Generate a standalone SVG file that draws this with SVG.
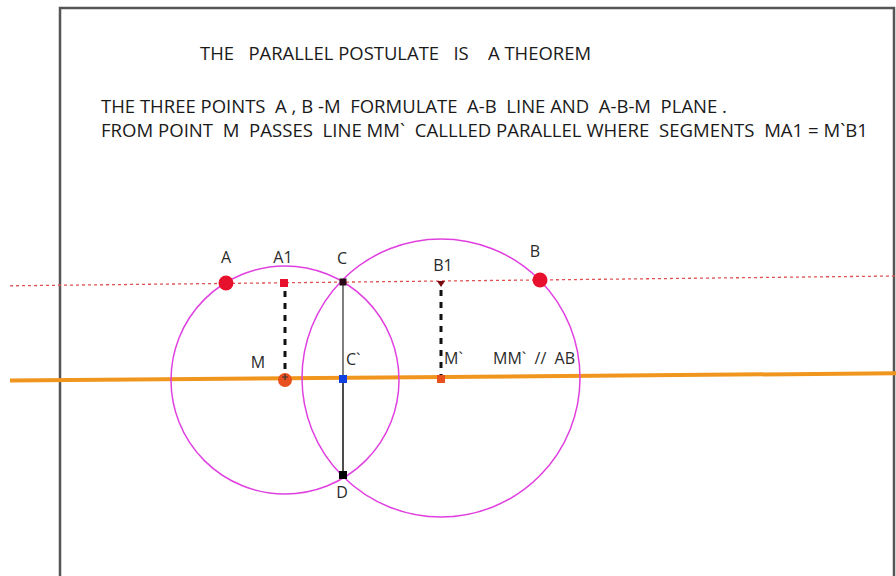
<svg xmlns="http://www.w3.org/2000/svg" width="896" height="576" viewBox="0 0 896 576">
<style>
.t{font-family:"Open Sans","DejaVu Sans",sans-serif;font-size:18.5px;fill:#1a1a1a;white-space:pre}
.lb{font-family:"Open Sans","DejaVu Sans",sans-serif;font-size:16px;fill:#2a2a2a;white-space:pre}
.circ{fill:none;stroke:#e040e0;stroke-width:1.5}
.dash{stroke:#111;stroke-width:3;stroke-dasharray:6 6}
</style>
<rect width="896" height="576" fill="#fff"/>
<g id="frame"><path d="M60 580 L60 8 L894 8 L894 580" fill="none" stroke="#555" stroke-width="2.5"/></g>
<g id="texts">
<text class="t" x="200" y="60" textLength="391" lengthAdjust="spacingAndGlyphs">THE   PARALLEL POSTULATE   IS    A THEOREM</text>
<text class="t" x="101" y="113" textLength="626" lengthAdjust="spacingAndGlyphs">THE THREE POINTS  A , B -M  FORMULATE  A-B  LINE AND  A-B-M  PLANE .</text>
<text class="t" x="101" y="137" textLength="767" lengthAdjust="spacingAndGlyphs">FROM POINT  M  PASSES  LINE MM`  CALLLED PARALLEL WHERE  SEGMENTS  MA1 = M`B1</text>
</g>
<g id="connectors">
<line x1="10" y1="285.8" x2="896" y2="276" stroke="#e05050" stroke-width="1.3" stroke-dasharray="3 3"/>
<line x1="10" y1="380.5" x2="896" y2="373.3" stroke="#f0961e" stroke-width="4"/>
<circle class="circ" cx="285" cy="380" r="114"/>
<circle class="circ" cx="441" cy="378" r="139"/>
<line x1="343" y1="282" x2="343" y2="379" stroke="#555" stroke-width="1.5"/>
<line x1="343" y1="379" x2="343" y2="475" stroke="#111" stroke-width="1.5"/>
<line class="dash" x1="285" y1="291" x2="285" y2="372"/>
<line class="dash" x1="441" y1="290" x2="441" y2="375"/>
</g>
<g id="node-A"><circle cx="226" cy="283" r="7.5" fill="#e8112d"/><text class="lb" x="226" y="263" text-anchor="middle">A</text></g>
<g id="node-A1"><rect x="280" y="279" width="8" height="8" fill="#e8112d"/><text class="lb" x="283" y="263" text-anchor="middle">A1</text></g>
<g id="node-C"><rect x="339.5" y="278.5" width="7" height="7" fill="#2a0a1a"/><text class="lb" x="342" y="264" text-anchor="middle">C</text></g>
<g id="node-B1"><path d="M437 281 L445 281 L441 287 Z" fill="#7a0a10"/><text class="lb" x="443" y="271" text-anchor="middle">B1</text></g>
<g id="node-B"><circle cx="540" cy="280" r="7.5" fill="#e8112d"/><text class="lb" x="535" y="257" text-anchor="middle">B</text></g>
<g id="node-M"><circle cx="285" cy="380" r="7" fill="#e8501e"/><path d="M285 374 L285 380 M282 377 L288 377" stroke="#333" stroke-width="1.2"/><text class="lb" x="258" y="368" text-anchor="middle">M</text></g>
<g id="node-Cp"><rect x="339" y="375" width="8" height="8" fill="#1040e0"/><text class="lb" x="346" y="365">C`</text></g>
<g id="node-Mp"><rect x="437" y="375" width="8" height="8" fill="#e8501e"/><text class="lb" x="444" y="364">M`</text><text class="lb" x="493" y="364">MM`  //  AB</text></g>
<g id="node-D"><rect x="339" y="471" width="8" height="8" fill="#000"/><text class="lb" x="342" y="498" text-anchor="middle">D</text></g>
</svg>
